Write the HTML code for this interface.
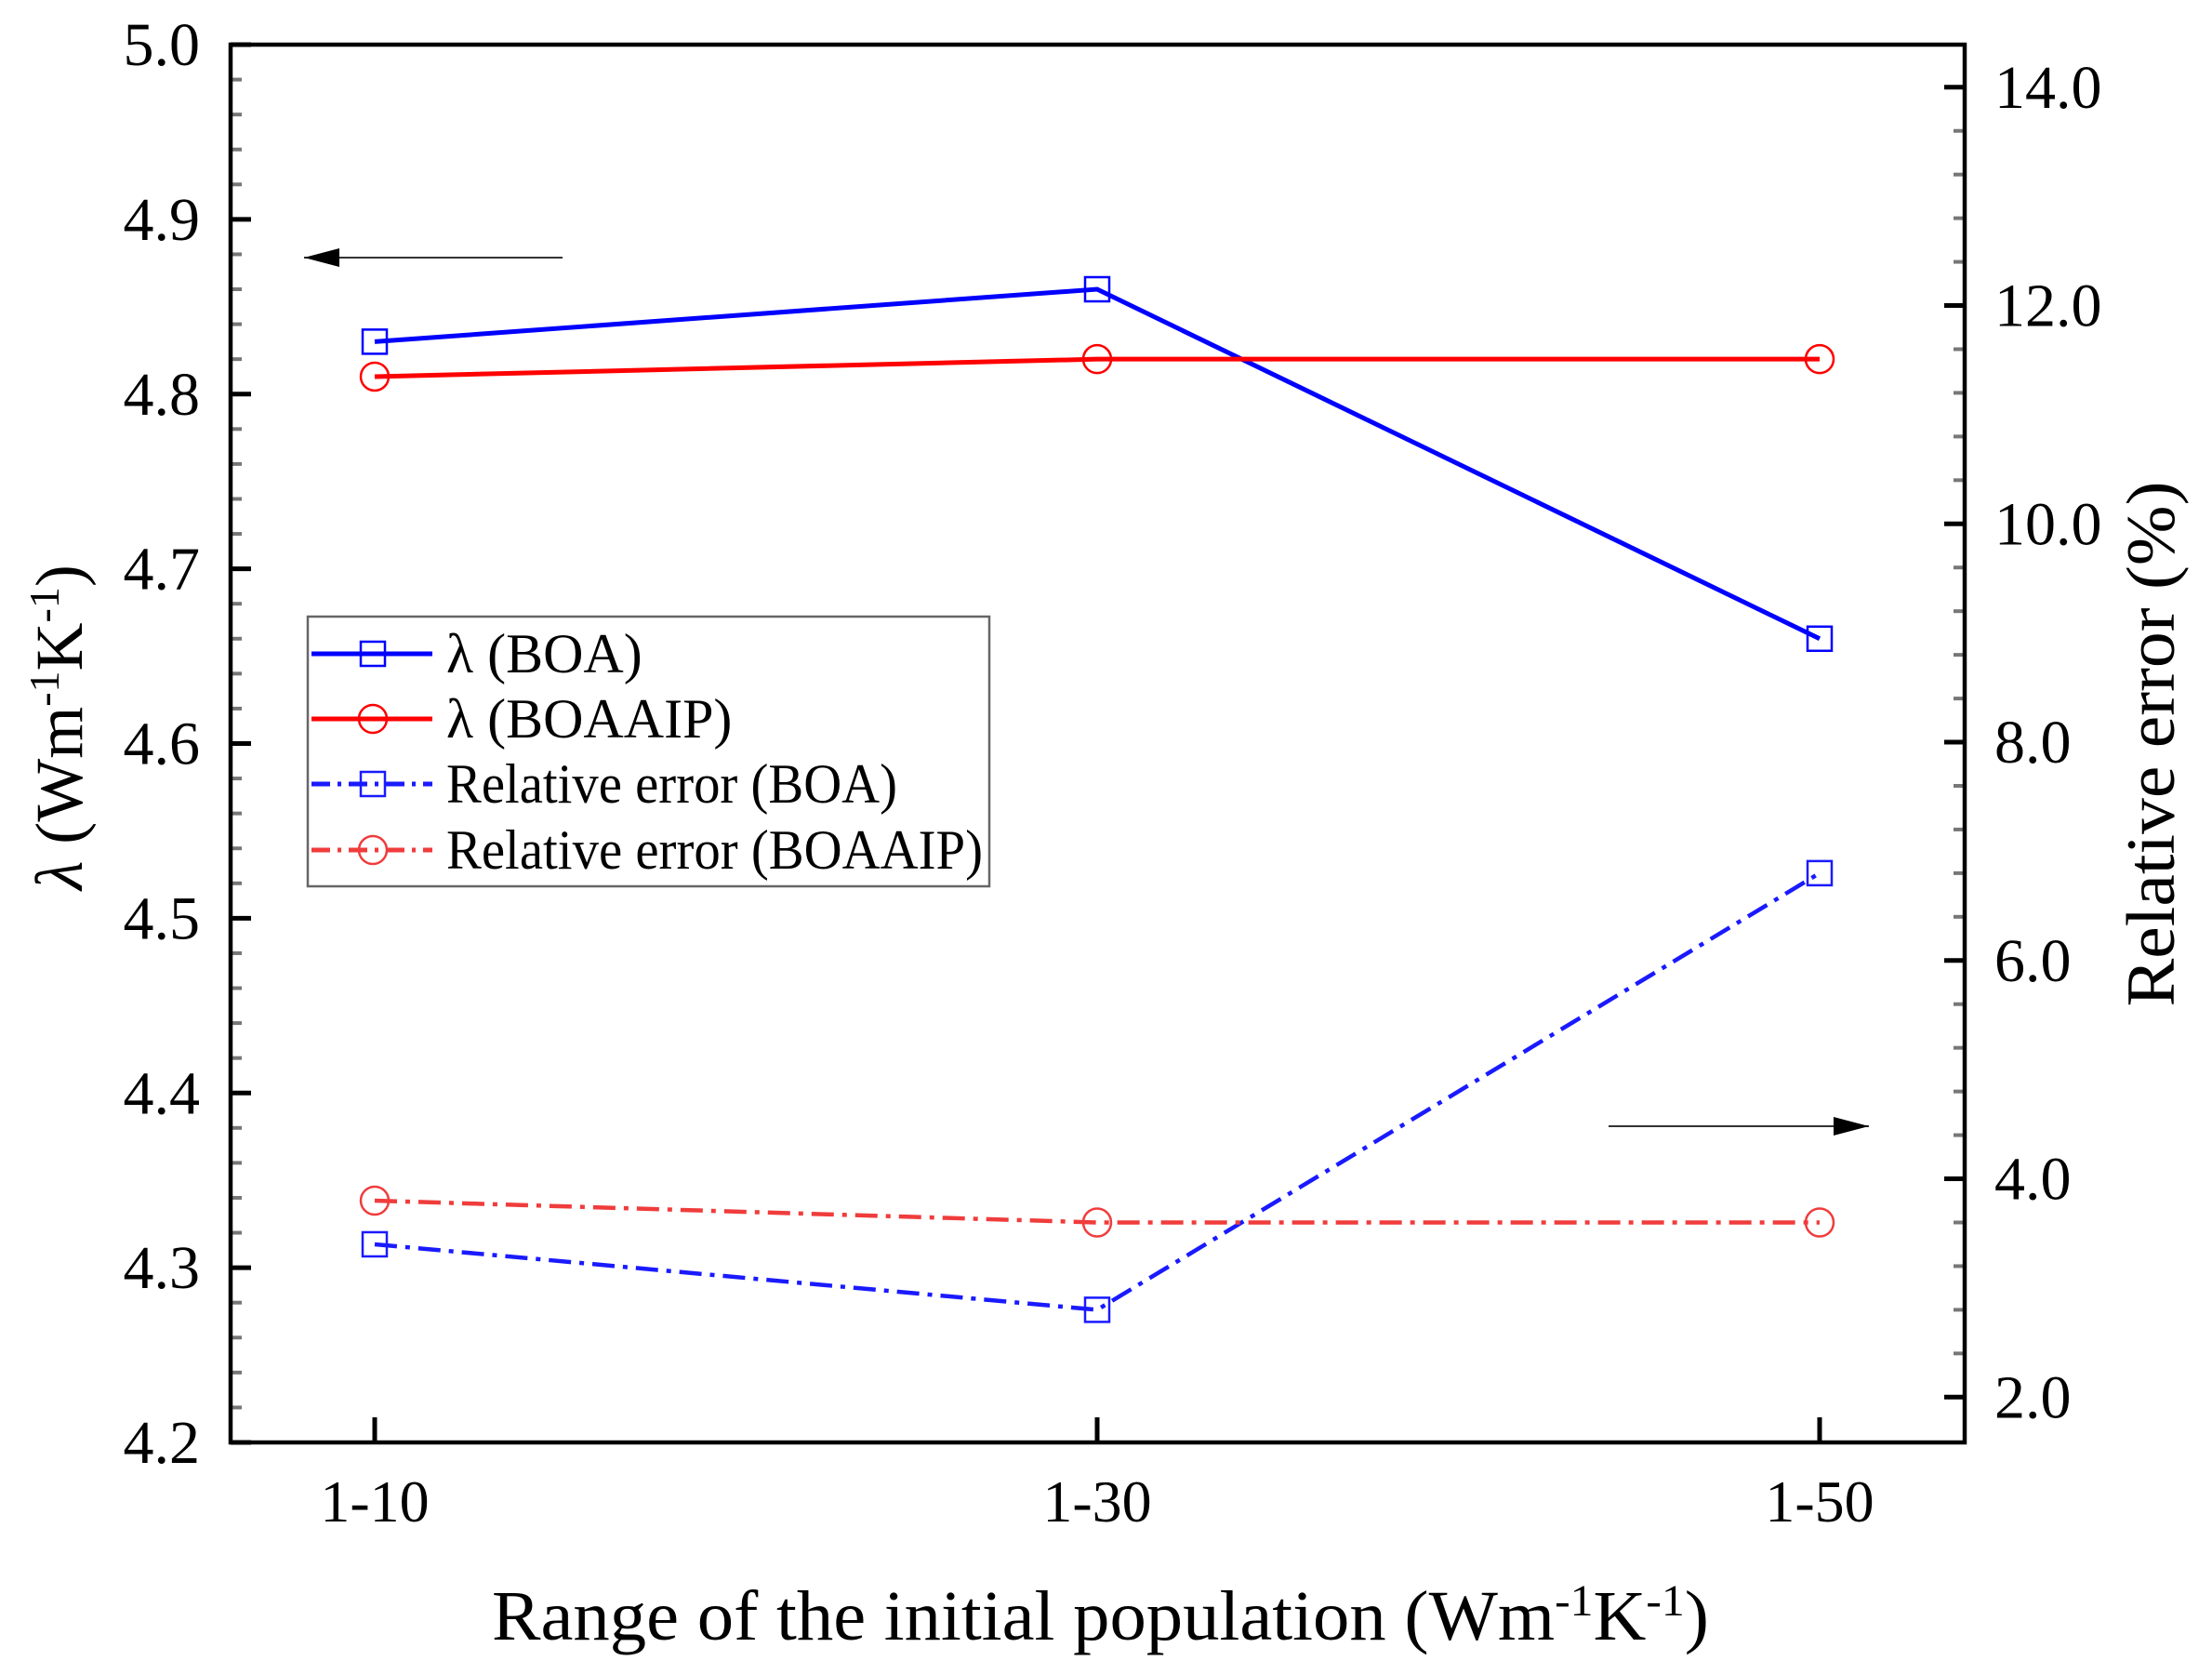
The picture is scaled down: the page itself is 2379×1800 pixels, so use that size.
<!DOCTYPE html>
<html><head><meta charset="utf-8"><style>
html,body{margin:0;padding:0;background:#fff;}
svg{display:block;font-family:"Liberation Serif",serif;}
</style></head><body>
<svg id="chart" width="2379" height="1800" viewBox="0 0 2379 1800" xmlns="http://www.w3.org/2000/svg"></svg>
<script>
const categories = ["1-10","1-30","1-50"];
const lambdaBOA = [4.83, 4.86, 4.66];
const lambdaBOAAIP = [4.81, 4.82, 4.82];
const errBOA = [3.4, 2.8, 6.8];
const errBOAAIP = [3.8, 3.6, 3.6];
const leftTicks = [4.2,4.3,4.4,4.5,4.6,4.7,4.8,4.9,5.0];
const rightTicks = [2,4,6,8,10,12,14];

const NS="http://www.w3.org/2000/svg";
const svg=document.getElementById('chart');
const L=248,R=2113,T=48,B=1551;
const yL=v=>B-(v-4.2)/0.8*(B-T);
const rMin=1.585,rMax=14.39;
const yR=v=>B-(v-rMin)/(rMax-rMin)*(B-T);
const xC=i=>403+i*777;
function el(tag,attrs,parent){const e=document.createElementNS(NS,tag);for(const k in attrs)e.setAttribute(k,attrs[k]);(parent||svg).appendChild(e);return e;}

for(let v=4.2;v<=5.0001;v+=0.02){const y=yL(v);const t=el('line',{x1:L,x2:L+12,y1:y,y2:y,stroke:'#777','stroke-width':4});

}
for(let v=2;v<=14.2;v+=0.4){const y=yR(v);const t=el('line',{x1:R-12,x2:R,y1:y,y2:y,stroke:'#777','stroke-width':4});

}
const fr=el('rect',{x:L,y:T,width:R-L,height:B-T,fill:'none',stroke:'#000','stroke-width':4.5});


leftTicks.forEach(v=>{const y=yL(v);
const t=el('line',{x1:L,x2:L+22,y1:y,y2:y,stroke:'#000','stroke-width':5});


const tx=el('text',{x:215,y:y+22,'text-anchor':'end','font-size':66},svg);tx.textContent=v.toFixed(1);

});
rightTicks.forEach(v=>{const y=yR(v);
const t=el('line',{x1:R-22,x2:R,y1:y,y2:y,stroke:'#000','stroke-width':5});


const tx=el('text',{x:2145,y:y+22,'font-size':66});tx.textContent=v.toFixed(1);

});
categories.forEach((c,i)=>{const x=xC(i);
const t=el('line',{x1:x,x2:x,y1:B,y2:B-27,stroke:'#000','stroke-width':5});


const tx=el('text',{x:x,y:1636,'text-anchor':'middle','font-size':64});tx.textContent=c;

});

const dash='24 9 5 9';
function series(vals,yf,color,dashed,marker,name){
 const pts=vals.map((v,i)=>[xC(i),yf(v)]);
 const pl=el('polyline',{points:pts.map(p=>p.join(',')).join(' '),fill:'none',stroke:color,'stroke-width':dashed?4.5:5});
 if(dashed)pl.setAttribute('stroke-dasharray',dash);
 
 
 pts.forEach(p=>{let m;
  if(marker==='sq')m=el('rect',{x:p[0]-13,y:p[1]-13,width:26,height:26,fill:'none',stroke:color,'stroke-width':2.5});
  else m=el('circle',{cx:p[0],cy:p[1],r:15,fill:'none',stroke:color,'stroke-width':2.5});
  
  });
}
series(lambdaBOA,yL,'#0000ff',false,'sq','lambda-boa');
series(lambdaBOAAIP,yL,'#ff0000',false,'ci','lambda-boaaip');
series(errBOA,yR,'#1a1aff',true,'sq','error-boa');
series(errBOAAIP,yR,'#f03c3c',true,'ci','error-boaaip');

function arrow(x1,x2,y,name){const g=el('g',{});
 el('line',{x1:x1,x2:x2,y1:y,y2:y,stroke:'#333','stroke-width':2},g);
 const d=x2>x1?1:-1;
 el('polygon',{points:`${x2},${y} ${x2-d*38},${y-10} ${x2-d*38},${y+10}`,fill:'#000'},g);}
arrow(605,327,277,'left-axis-arrow');
arrow(1730,2010,1211,'right-axis-arrow');

const lg=el('g',{});
el('rect',{x:331,y:663,width:733,height:290,fill:'#fff',stroke:'#666','stroke-width':2.5},lg);
const legItems=[['λ (BOA)','#0000ff',false,'sq',703],['λ (BOAAIP)','#ff0000',false,'ci',773],['Relative error (BOA)','#1a1aff',true,'sq',843],['Relative error (BOAAIP)','#f03c3c',true,'ci',914]];
legItems.forEach(it=>{const g=el('g',{},lg);
 const ln=el('line',{x1:335,x2:465,y1:it[4],y2:it[4],stroke:it[1],'stroke-width':5},g);
 if(it[2])ln.setAttribute('stroke-dasharray','20 8 4 8');
 if(it[3]==='sq')el('rect',{x:388,y:it[4]-13,width:26,height:26,fill:'none',stroke:it[1],'stroke-width':2.5},g);
 else el('circle',{cx:401,cy:it[4],r:15,fill:'none',stroke:it[1],'stroke-width':2.5},g);
 const tx=el('text',{x:480,y:it[4]+20,'font-size':60},g);tx.textContent=it[0];
 if(it[0].startsWith('Rel')){tx.setAttribute('textLength',it[0].length>21?577:485);tx.setAttribute('lengthAdjust','spacingAndGlyphs');}
});

const xt=el('text',{x:529,y:1763,'font-size':76,textLength:1309,lengthAdjust:'spacingAndGlyphs'});
xt.innerHTML='Range of the initial population (Wm<tspan baseline-shift="super" font-size="48">-1</tspan>K<tspan baseline-shift="super" font-size="48">-1</tspan>)';

const yt=el('text',{x:0,y:0,'font-size':72,'text-anchor':'middle',transform:'translate(88,782) rotate(-90)'});
yt.innerHTML='<tspan font-style="italic">λ</tspan> (Wm<tspan baseline-shift="super" font-size="46">-1</tspan>K<tspan baseline-shift="super" font-size="46">-1</tspan>)';

const rt=el('text',{x:0,y:0,'font-size':74,'text-anchor':'middle',transform:'translate(2338,800) rotate(-90)',textLength:565,lengthAdjust:'spacingAndGlyphs'});
rt.textContent='Relative error (%)';

</script>
</body></html>
